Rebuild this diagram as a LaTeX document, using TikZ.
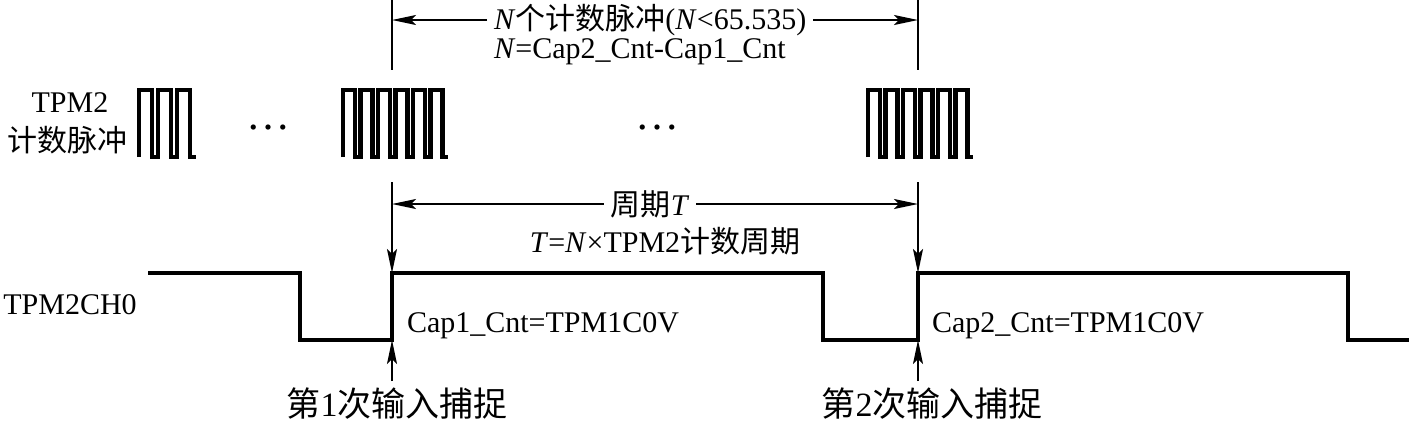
\documentclass[tikz,border=0pt]{standalone}
\usepackage{fontspec}
\setmainfont{Liberation Serif}
\newfontfamily\cjk{Noto Sans CJK SC}
\usetikzlibrary{arrows.meta}

\begin{document}
\begin{tikzpicture}[
    wave/.style={line width=2.2pt, line join=miter},
    guide/.style={line width=0.9pt},
    dim/.style={line width=0.9pt, -{Stealth[length=12pt, width=5pt, inset=2.5pt]}},
    txt/.style={font=\fontsize{15}{18}\selectfont},
    bigtxt/.style={font=\fontsize{17}{20}\selectfont},
    x=0.5pt, y=-0.5pt
]
\useasboundingbox (0,0) rectangle (1409,425);

\def\hi{273}   % high level of TPM2CH0
\def\lo{340}   % low level of TPM2CH0

% ── Capture instants ─────────────────────────────────────────────────────────
\coordinate (la) at (392,0);
\coordinate (lb) at (918,0);
\coordinate (cap1) at (392,\hi);
\coordinate (cap2) at (918,\hi);
\coordinate (cap1low) at (392,\lo);
\coordinate (cap2low) at (918,\lo);

% ── Counter pulse trains: start/count/period/width ───────────────────────────
\foreach \x/\n/\p/\w in {139/3/19/13, 343/6/17.5/12, 868/6/17.5/12} {
    \draw[wave] (\x,157)
        \foreach \k in {1,...,\n} { -- ++(0,-67) -- ++(\w,0) -- ++(0,67) -- ++(\p-\w,0) };
}
\node[font=\fontsize{22}{24}\selectfont] (dots1) at (268,128) {…};
\node[font=\fontsize{22}{24}\selectfont] (dots2) at (657,128) {…};

% ── Left labels ──────────────────────────────────────────────────────────────
\node[txt] (lbltpm) at (70,103) {TPM2};
\node[txt] (lblcnt) at (68,140) {\cjk 计数脉冲};
\node[txt] (lblch) at (70,305) {TPM2CH0};

% ── TPM2CH0 input signal ─────────────────────────────────────────────────────
\draw[wave] (148,\hi) -- (300,\hi) -- (300,\lo) -- (cap1low) -- (cap1)
    -- (823,\hi) -- (823,\lo) -- (cap2low) -- (cap2)
    -- (1348,\hi) -- (1348,\lo) -- (1409,\lo);

% ── Count span N ─────────────────────────────────────────────────────────────
\draw[guide] (la) -- ++(0,70);
\draw[guide] (lb) -- ++(0,70);
\node[txt, anchor=west] (ntop) at (487,20)
    {\textit{N}{\cjk 个计数脉冲}(\textit{N}<65.535)};
\node[txt, anchor=west] (nform) at (487,52) {\textit{N}=Cap2\_Cnt-Cap1\_Cnt};
\draw[dim] (ntop.west) -- (ntop.west -| la);
\draw[dim] (ntop.east) -- (ntop.east -| lb);

% ── Period T ─────────────────────────────────────────────────────────────────
\node[txt] (nper) at (650,204) {{\cjk 周期}\textit{T}};
\node[txt] (nT) at (665,241) {\textit{T}=\textit{N}×TPM2{\cjk 计数周期}};
\draw[dim] (nper.west) -- (nper.west -| la);
\draw[dim] (nper.east) -- (nper.east -| lb);
\draw[dim] (cap1) ++(0,-91) -- (cap1);
\draw[dim] (cap2) ++(0,-91) -- (cap2);

% ── Captured values ──────────────────────────────────────────────────────────
\node[txt, anchor=west] (ncap1) at (400,326) {Cap1\_Cnt=TPM1C0V};
\node[txt, anchor=west] (ncap2) at (925,326) {Cap2\_Cnt=TPM1C0V};

% ── Capture events ───────────────────────────────────────────────────────────
\node[bigtxt] (nc1) at (397,404) {{\cjk 第}1{\cjk 次输入捕捉}};
\node[bigtxt] (nc2) at (932,404) {{\cjk 第}2{\cjk 次输入捕捉}};
\draw[dim] (nc1.north -| cap1low) -- (cap1low);
\draw[dim] (nc2.north -| cap2low) -- (cap2low);

\end{tikzpicture}
\end{document}
